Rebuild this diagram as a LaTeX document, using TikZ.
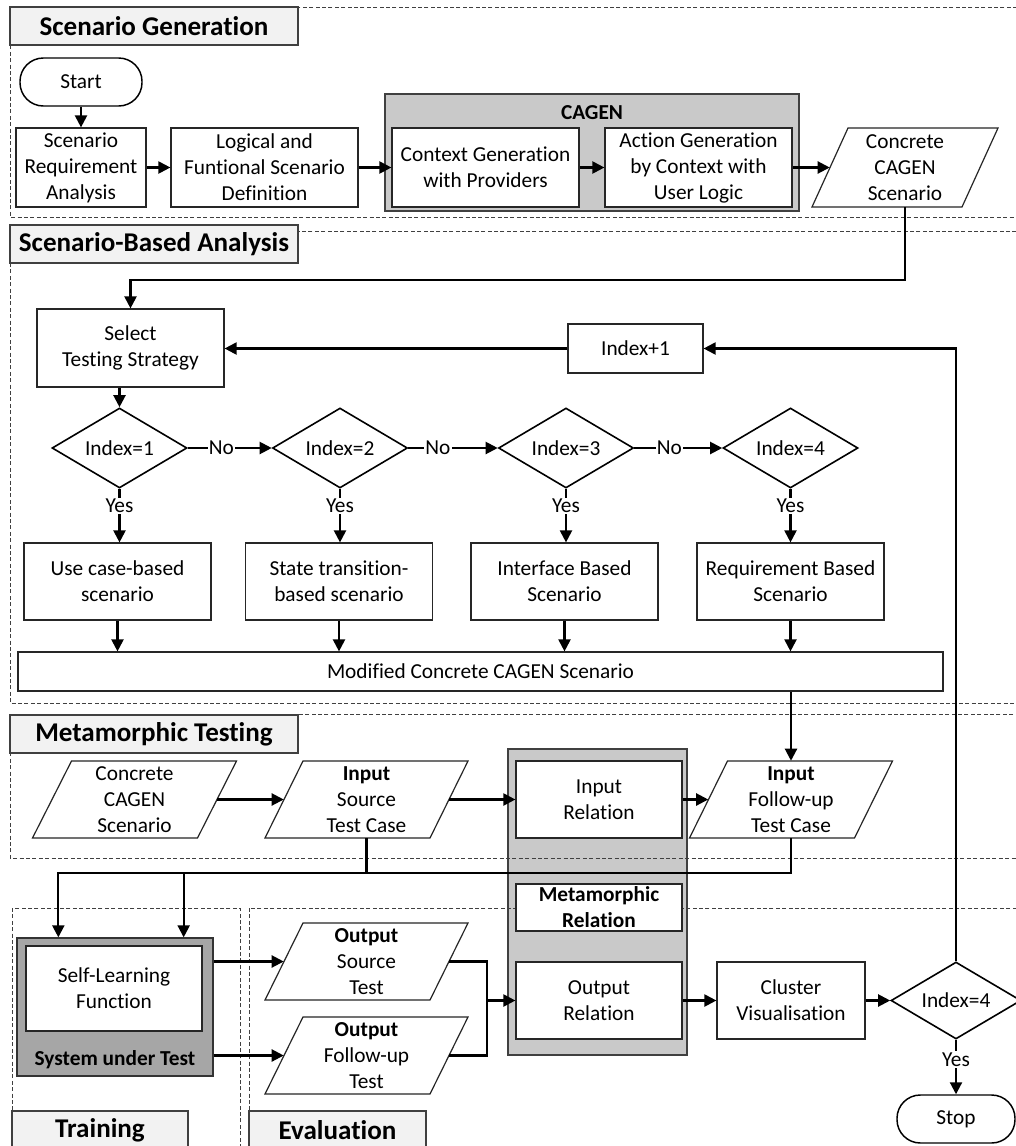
\documentclass[tikz,border=0pt]{standalone}
\usepackage{fontspec}
\setmainfont{Carlito}[Ligatures=NoCommon]
\usetikzlibrary{arrows.meta,shapes.geometric,calc}
\definecolor{midgray}{HTML}{C9C9C9}
\definecolor{sutgray}{HTML}{A6A6A6}
\definecolor{titlegray}{HTML}{F2F2F2}
\newcommand\bodyfont{\fontsize{16}{19.5}\selectfont}
\newcommand\titlefont{\fontsize{20.3}{24}\selectfont\bfseries}
\newcommand\paraNode[7]{%
  \draw[paraline] ({#2-#4/2+#6/2},{#3-#5/2}) -- ({#2+#4/2+#6/2},{#3-#5/2}) -- ({#2+#4/2-#6/2},{#3+#5/2}) -- ({#2-#4/2-#6/2},{#3+#5/2}) -- cycle;
  \node[ptext, wh={#4}{#5}] (#1) at (#2,#3) {#7};}
\begin{document}
\begin{tikzpicture}[x=0.75pt,y=-0.75pt,
  wh/.style 2 args={minimum width=#1*0.75pt, minimum height=#2*0.75pt},
  box/.style={draw=black!85, line width=0.9pt, fill=white, inner sep=0pt, align=center, font=\bodyfont},
  graybox/.style={draw=black!75, line width=0.9pt, fill=midgray, inner sep=0pt},
  sutbox/.style={draw=black!80, line width=1pt, fill=sutgray, inner sep=0pt},
  titlebox/.style={draw=black!75, line width=0.8pt, fill=titlegray, inner sep=0pt, font=\titlefont},
  paraline/.style={draw=black!85, line width=0.9pt, fill=white},
  ptext/.style={draw=none, inner sep=0pt, align=center, font=\bodyfont},
  diam/.style={diamond, aspect=1.7, draw=black, line width=1.2pt, fill=white, inner sep=0pt, font=\bodyfont},
  term/.style={draw=black, line width=1.1pt, fill=white, rounded corners=17.5pt, inner sep=0pt, font=\bodyfont},
  frame/.style={draw=black!75, line width=0.6pt, dash pattern=on 3pt off 1.8pt},
  ln/.style={line width=1.6pt},
  arr/.style={line width=1.6pt, -{Triangle[length=9pt,width=9pt]}},
  nolab/.style={fill=white, inner sep=1pt, font=\bodyfont}
]
\useasboundingbox (0,0) rectangle (1016,1146);
\clip (0,0) rectangle (1016,1146);
\fill[white] (0,0) rectangle (1016,1146);

% gray containers
\node[graybox, wh={414}{117}, label={[anchor=north, font=\bodyfont\bfseries, inner sep=0pt, yshift=-9pt]north:CAGEN}] (cagen) at (592,152.5) {};
\node[graybox, wh={179}{306}] (mcol) at (597.5,902) {};

% dashed section frames
\draw[frame] (10,7) rectangle (1030,217);
\draw[frame] (10,231) rectangle (1030,703);
\draw[frame] (10,714) rectangle (1030,858);
\draw[frame] (12,908) rectangle (240,1170);
\draw[frame] (249,908) rectangle (1030,1170);

% titles
\node[titlebox, wh={288}{38}] (t1) at (154,26) {Scenario Generation};
\node[titlebox, wh={288}{38}] (t2) at (154,244) {Scenario-Based Analysis};
\node[titlebox, wh={288}{38}] (t3) at (154,734) {Metamorphic Testing};
\node[titlebox, wh={176}{38}] (t4) at (100,1130) {Training};
\node[titlebox, wh={177}{38}] (t5) at (337.5,1130) {Evaluation};

% Scenario generation
\node[term, wh={122}{48}] (start) at (81,82) {Start};
\node[box, wh={130}{79}] (sra) at (81,167.5) {Scenario\\Requirement\\Analysis};
\node[box, wh={187}{79}] (lfs) at (264.5,167.5) {Logical and\\Funtional Scenario\\Definition};
\node[box, wh={187}{79}] (cgp) at (485.5,167.5) {Context Generation\\with Providers};
\node[box, wh={187}{79}] (agc) at (698.5,167.5) {Action Generation\\by Context with\\User Logic};
\paraNode{cc1}{905}{167.5}{150}{79}{36}{Concrete\\CAGEN\\Scenario}

% Scenario-based analysis
\node[box, wh={187}{78}] (sel) at (130.5,348) {Select\\Testing Strategy};
\node[box, wh={135}{49}] (inc) at (635.5,348.5) {Index+1};
\node[diam, wh={135}{80}] (d1) at (119.5,448) {Index=1};
\node[diam, wh={135}{80}] (d2) at (340,448) {Index=2};
\node[diam, wh={135}{80}] (d3) at (566,448) {Index=3};
\node[diam, wh={135}{80}] (d4) at (790.5,448) {Index=4};
\node[box, wh={187}{77}] (b1) at (117.5,581.5) {Use case-based\\scenario};
\node[box, wh={187}{77}] (b2) at (339,581.5) {State transition-\\based scenario};
\node[box, wh={187}{77}] (b3) at (564.5,581.5) {Interface Based\\Scenario};
\node[box, wh={187}{77}] (b4) at (790.5,581.5) {Requirement Based\\Scenario};
\node[box, wh={925}{39}] (mod) at (480.5,671.5) {Modified Concrete CAGEN Scenario};

% Metamorphic testing
\paraNode{cc2}{134.5}{799.5}{165}{77}{39}{Concrete\\CAGEN\\Scenario}
\paraNode{ist}{366.5}{799.5}{165}{77}{38}{\textbf{Input}\\Source\\Test Case}
\node[box, wh={166}{77}] (irel) at (599,799.5) {Input\\Relation};
\paraNode{fin}{791}{799.5}{165}{77}{38}{\textbf{Input}\\Follow-up\\Test Case}
\node[box, wh={166}{47}, font=\bodyfont\bfseries] (mrel) at (599,907.5) {Metamorphic\\Relation};
\node[box, wh={166}{77}] (orel) at (599,1000.5) {Output\\Relation};

% Training / evaluation
\node[sutbox, wh={196}{138}, label={[anchor=south, font=\bodyfont\bfseries, inner sep=0pt, yshift=6pt]south:System under Test}] (sut) at (115,1007) {};
\node[box, wh={176}{85}] (slf) at (114,988.5) {Self-Learning\\Function};
\paraNode{ost}{366.5}{961.5}{165}{77}{38}{\textbf{Output}\\Source\\Test}
\paraNode{oft}{366.5}{1055.5}{165}{77}{38}{\textbf{Output}\\Follow-up\\Test}
\node[box, wh={148}{77}] (clu) at (791,1000.5) {Cluster\\Visualisation};
\node[diam, wh={130}{77}] (chk) at (956,1000.5) {Index=4};
\node[term, wh={118}{48}] (stop) at (956,1119) {Stop};

% connectors
\draw[arr] (start) -- (sra);
\draw[arr] (sra) -- (lfs);
\draw[arr] (lfs) -- (cgp);
\draw[arr] (cgp) -- (agc);
\draw[arr] (agc) -- (cc1);
\coordinate (j1) at (0,280);
\draw[arr] (cc1.south) -- (cc1.south |- j1) -| (sel.north);
\draw[arr] (inc.west) -- (inc.west -| sel.east);
\draw[arr] (sel.south -| d1.north) -- (d1.north);
\draw[arr] (d1.east) -- node[nolab, pos=0.4]{No} (d2.west);
\draw[arr] (d2.east) -- node[nolab, pos=0.33]{No} (d3.west);
\draw[arr] (d3.east) -- node[nolab, pos=0.4]{No} (d4.west);
\draw[arr] (d1.south) -- node[nolab, pos=0.32]{Yes} (d1.south |- b1.north);
\draw[arr] (d2.south) -- node[nolab, pos=0.32]{Yes} (d2.south |- b2.north);
\draw[arr] (d3.south) -- node[nolab, pos=0.32]{Yes} (d3.south |- b3.north);
\draw[arr] (d4.south) -- node[nolab, pos=0.32]{Yes} (d4.south |- b4.north);
\draw[arr] (b1.south) -- (b1.south |- mod.north);
\draw[arr] (b2.south) -- (b2.south |- mod.north);
\draw[arr] (b3.south) -- (b3.south |- mod.north);
\draw[arr] (b4.south) -- (b4.south |- mod.north);
\draw[arr] (mod.south -| fin.north) -- (fin.north);
\draw[arr] (cc2) -- (ist);
\draw[arr] (ist) -- (irel);
\draw[arr] (irel) -- (fin);
\coordinate (j2) at (0,873);
\draw[arr] (ist.south) -- (ist.south |- j2) -| ([xshift=31.5pt]sut.north west);
\draw[arr] (fin.south) -- (fin.south |- j2) -| ([xshift=-22.5pt]sut.north east);
\draw[arr] (sut.east |- ost.west) -- (ost.west);
\draw[arr] (sut.east |- oft.west) -- (oft.west);
\coordinate (j3) at (487,1000.5);
\draw[ln] (ost.east) -| (j3);
\draw[ln] (oft.east) -| (j3);
\draw[arr] (j3) -- (orel.west);
\draw[arr] (orel) -- (clu);
\draw[arr] (clu) -- (chk);
\draw[arr] (chk.north) |- (inc.east);
\draw[arr] (chk.south) -- node[nolab, pos=0.36]{Yes} (stop.north);
\end{tikzpicture}
\end{document}
